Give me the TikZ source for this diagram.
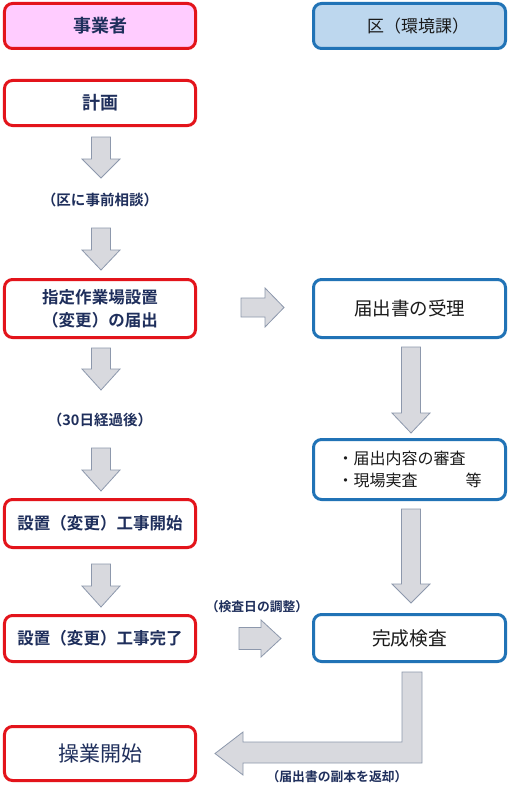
\documentclass[tikz,border=0pt]{standalone}
\usepackage{fontspec}
\newfontfamily\jp{Noto Sans CJK JP}[BoldFont={Noto Sans CJK JP Bold}]
\definecolor{bred}{HTML}{E3141B}
\definecolor{bblue}{HTML}{2173B6}
\definecolor{pinkf}{HTML}{FFCCFF}
\definecolor{bluef}{HTML}{BDD7EE}
\definecolor{navy}{HTML}{1F2F5C}
\definecolor{txtd}{HTML}{1A1A1A}
\definecolor{arrf}{HTML}{D8D9DE}
\definecolor{arrd}{HTML}{8D98AC}
\newcommand\darr[6]{\draw[blockarrow] (#1-#5,#2) -- (#1+#5,#2) -- (#1+#5,#4) -- (#1+#6,#4) -- (#1,#3) -- (#1-#6,#4) -- (#1-#5,#4) -- cycle;}
\newcommand\rarr[6]{\draw[blockarrow] (#2,#1-#5) -- (#4,#1-#5) -- (#4,#1-#6) -- (#3,#1) -- (#4,#1+#6) -- (#4,#1+#5) -- (#2,#1+#5) -- cycle;}
\begin{document}
\begin{tikzpicture}[x=1bp,y=-1bp,
  redbox/.style={draw=bred,line width=3bp,rounded corners=8bp,fill=white,inner sep=0pt,minimum width=191bp,align=center,text=navy,font=\jp\bfseries\fontsize{16.5bp}{23bp}\selectfont},
  bluebox/.style={draw=bblue,line width=3bp,rounded corners=8bp,fill=white,inner sep=0pt,minimum width=192bp,align=center,text=txtd,font=\jp\fontsize{18.5bp}{23bp}\selectfont},
  blockarrow/.style={fill=arrf,draw=arrd,line width=0.8bp,line join=miter},
  lbl/.style={inner sep=0pt,text=navy,font=\jp\bfseries\fontsize{14.5bp}{18bp}\selectfont},
  slbl/.style={inner sep=0pt,text=navy,font=\jp\bfseries\fontsize{12.8bp}{16bp}\selectfont}]
\useasboundingbox (0,0) rectangle (509,800);
\fill[white] (0,0) rectangle (509,800);
% left column
\node[redbox,fill=pinkf,minimum height=45bp,font=\jp\bfseries\fontsize{18bp}{22bp}\selectfont] (h1) at (100,26) {事業者};
\node[redbox,minimum height=45bp,font=\jp\bfseries\fontsize{18bp}{22bp}\selectfont] (plan) at (100,103) {計画};
\node[redbox,minimum height=58bp] (notify) at (100,308.5) {指定作業場設置\\（変更）の届出};
\node[redbox,minimum height=48bp] (start) at (100,523.5) {設置（変更）工事開始};
\node[redbox,minimum height=46bp] (done) at (100,638.5) {設置（変更）工事完了};
\node[redbox,minimum height=54bp,font=\jp\fontsize{21bp}{24bp}\selectfont] (op) at (100,753.5) {操業開始};
% right column
\node[bluebox,fill=bluef,minimum height=45bp,font=\jp\fontsize{17bp}{22bp}\selectfont] (h2) at (409.5,26) {\hspace{17bp}区（環境課）};
\node[bluebox,minimum height=58bp] (accept) at (409.5,308.5) {届出書の受理};
\node[bluebox,minimum height=60bp,align=left,font=\jp\fontsize{16bp}{22bp}\selectfont] (review) at (409.5,469.5) {・届出内容の審査\\・現場実査\hspace{3em}等};
\node[bluebox,minimum height=47bp,font=\jp\fontsize{18.75bp}{22bp}\selectfont] (inspect) at (409.5,638) {完成検査};
% labels
\node[lbl] (l1) at (100,200) {（区に事前相談）};
\node[lbl] (l2) at (100,420) {（30日経過後）};
\node[slbl] (l3) at (257,607) {（検査日の調整）};
\node[slbl] (l4) at (337,777) {（届出書の副本を返却）};
% down arrows left
\darr{101}{137}{178}{159}{9.5}{19}
\darr{101}{228}{270}{250}{9.5}{19}
\darr{101}{348}{390}{369}{9.5}{19}
\darr{101}{448}{491}{470}{9.5}{19}
\darr{101}{564}{607}{586}{9.5}{19}
% right arrows
\rarr{307.5}{241}{284}{265}{9.5}{19.5}
\rarr{638.5}{239}{281}{261}{11}{18.5}
% down arrows right
\darr{411}{347}{433}{413}{9.5}{19}
\darr{411}{509}{603}{584}{9.5}{19}
% L arrow
\draw[blockarrow] (402,672) -- (422,672) -- (422,763) -- (243,763) -- (243,775) -- (215,753.5) -- (243,732) -- (243,742) -- (402,742) -- cycle;
\end{tikzpicture}
\end{document}
